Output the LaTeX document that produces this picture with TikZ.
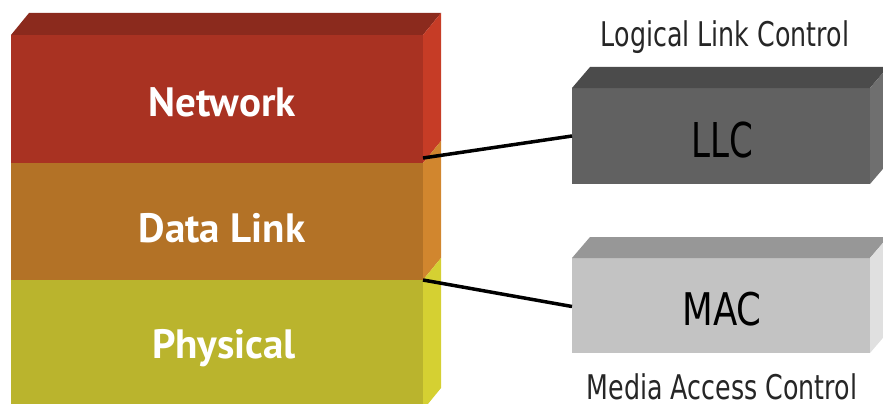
\documentclass[tikz,border=0pt]{standalone}
\usepackage{fontspec}
\setmainfont{DejaVu Sans}
\newfontfamily\layerfont{PT Sans}
\definecolor{netfront}{HTML}{A93222}
\definecolor{nettop}{HTML}{8B2A1D}
\definecolor{netside}{HTML}{C63C26}
\definecolor{dlfront}{HTML}{B37226}
\definecolor{dlside}{HTML}{D1862E}
\definecolor{phfront}{HTML}{BAB42D}
\definecolor{phside}{HTML}{D5D032}
\definecolor{llcfront}{HTML}{616161}
\definecolor{llctop}{HTML}{4B4B4B}
\definecolor{llcside}{HTML}{6F6F6F}
\definecolor{macfront}{HTML}{C3C3C3}
\definecolor{mactop}{HTML}{979797}
\definecolor{macside}{HTML}{E0E0E0}
\begin{document}
\begin{tikzpicture}[x=1pt,y=-1pt,
  face/.style={rectangle, inner sep=0pt, outer sep=0pt, draw=none},
  layertext/.style={anchor=base, inner sep=0pt, text=white, font=\layerfont\bfseries\fontsize{41}{41}\selectfont},
  boxtext/.style={anchor=base, inner sep=0pt, text=black, font=\fontsize{48}{48}\selectfont},
  captext/.style={anchor=base, inner sep=0pt, text=black!85, font=\fontsize{34}{34}\selectfont},
  link/.style={line width=3.5pt, black}]
  \useasboundingbox (0,0) rectangle (883,404);

  % protocol stack: front faces
  \node[face, fill=netfront, minimum width=412pt, minimum height=128pt, anchor=north west] (net) at (11,35) {};
  \node[face, fill=dlfront, minimum width=412pt, minimum height=117pt, anchor=north west] (dlink) at (11,163) {};
  \node[face, fill=phfront, minimum width=412pt, minimum height=130pt, anchor=north west] (phys) at (11,280) {};
  % top and side faces
  \fill[nettop] (net.north west) -- ++(18,-22) -- ++(412,0) -- (net.north east) -- cycle;
  \fill[netside] (net.north east) -- ++(18,-22) -- ++(0,128) -- (net.south east) -- cycle;
  \fill[dlside] (dlink.north east) -- ++(18,-22) -- ++(0,117) -- (dlink.south east) -- cycle;
  \fill[phside] (phys.north east) -- ++(18,-22) -- ++(0,130) -- (phys.south east) -- cycle;

  \node[layertext] (nettxt) at (222,116) {Network};
  \node[layertext] (dltxt) at (222,242) {Data Link};
  \node[layertext] (phtxt) at (224,358) {Physical};

  % sublayer boxes
  \node[face, fill=llcfront, minimum width=298pt, minimum height=96pt, anchor=north west] (llc) at (572,88) {};
  \fill[llctop] (llc.north west) -- ++(18,-21) -- ++(298,0) -- (llc.north east) -- cycle;
  \fill[llcside] (llc.north east) -- ++(18,-21) -- ++(0,96) -- (llc.south east) -- cycle;
  \node[face, fill=macfront, minimum width=298pt, minimum height=95pt, anchor=north west] (mac) at (572,258) {};
  \fill[mactop] (mac.north west) -- ++(18,-21) -- ++(298,0) -- (mac.north east) -- cycle;
  \fill[macside] (mac.north east) -- ++(18,-21) -- ++(0,95) -- (mac.south east) -- cycle;

  \node[boxtext] (llctxt) at (722,157) {\scalebox{0.71}[1]{LLC}};
  \node[boxtext, font=\fontsize{45}{45}\selectfont] (mactxt) at (722,325) {\scalebox{0.79}[1]{MAC}};
  \node[captext] (llccap) at (725,47) {\scalebox{0.745}[1]{Logical Link Control}};
  \node[captext] (maccap) at (722,399) {\scalebox{0.745}[1]{Media Access Control}};

  % connectors
  \coordinate (netport) at ([yshift=5pt]net.south east);
  \draw[link] (netport) -- (llc.west);
  \draw[link] (dlink.south east) -- ([yshift=-1pt]mac.west);
\end{tikzpicture}
\end{document}
